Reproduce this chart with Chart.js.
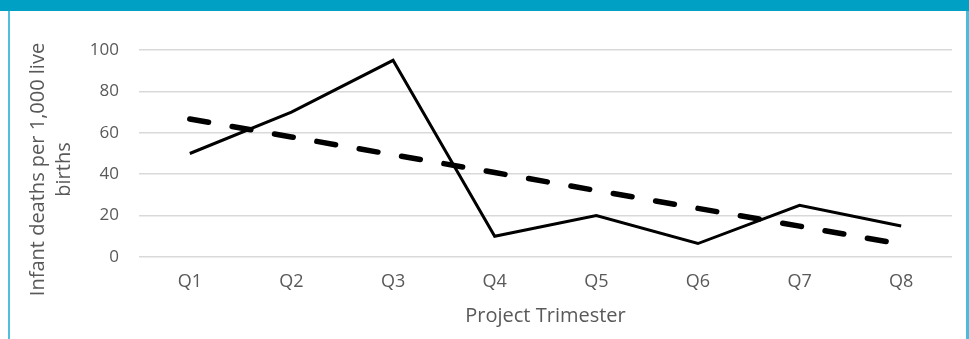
<!DOCTYPE html>
<html>
<head>
<meta charset="utf-8">
<script src="https://cdn.jsdelivr.net/npm/chart.js@4"></script>
<style>
  html, body { margin: 0; padding: 0; background: #fff; }
  #wrap { position: relative; width: 969px; height: 339px; overflow: hidden; }
  #topbar { position: absolute; left: 0; top: 0; width: 969px; height: 11px; background: #00a0c4; }
  #lborder { position: absolute; left: 8px; top: 11px; width: 2px; height: 328px; background: #4fbfdc; }
  #rborder { position: absolute; left: 966px; top: 11px; width: 3px; height: 328px; background: #4abcdc; }
  canvas { position: absolute; left: 0; top: 0; }
</style>
</head>
<body>
<div id="wrap">
  <canvas id="chart" width="969" height="339"></canvas>
  <div id="topbar"></div>
  <div id="lborder"></div>
  <div id="rborder"></div>
</div>
<script>
'use strict';

/* ── data ── */
const quarters   = ['Q1', 'Q2', 'Q3', 'Q4', 'Q5', 'Q6', 'Q7', 'Q8'];
const mortality  = [50, 70, 95, 10, 20, 6.5, 25, 15];
const trendLine  = [66.7, 58.0, 49.4, 40.8, 32.1, 23.5, 14.9, 6.2];
const yTitle     = ['Infant deaths per 1,000 live', 'births'];
const xTitle     = 'Project Trimester';

const FONT  = "'Open Sans', 'Noto Sans', sans-serif";
const GREY  = '#595959';

Chart.defaults.font.family = FONT;
Chart.defaults.color       = GREY;

/* y title sits a bit lower than the plot centre in the reference,
   so it is drawn by hand next to the y axis */
const yTitlePlugin = {
  id: 'yTitle',
  afterDraw(chart) {
    const { ctx } = chart;
    const yScale = chart.scales.y;
    const cy = (yScale.top + yScale.bottom) / 2 + 16;
    ctx.save();
    ctx.font = `20px ${FONT}`;
    ctx.fillStyle = GREY;
    ctx.textAlign = 'center';
    ctx.textBaseline = 'middle';
    yTitle.forEach((line, i) => {
      ctx.save();
      ctx.translate(38 + i * 26, cy);
      ctx.rotate(-Math.PI / 2);
      ctx.fillText(line, 0, 0);
      ctx.restore();
    });
    ctx.restore();
  }
};

new Chart(document.getElementById('chart'), {
  type: 'line',
  data: {
    labels: quarters,
    datasets: [
      {
        data: mortality,
        borderColor: '#000',
        borderWidth: 3,
        pointRadius: 0,
        tension: 0,
        borderJoinStyle: 'miter'
      },
      {
        data: trendLine,
        borderColor: '#000',
        borderWidth: 5.5,
        borderDash: [19, 24],
        borderCapStyle: 'round',
        pointRadius: 0,
        tension: 0
      }
    ]
  },
  options: {
    responsive: false,
    animation: false,
    layout: { padding: { left: 9, right: 17, top: 50, bottom: 0 } },
    plugins: { legend: { display: false }, tooltip: { enabled: false } },
    scales: {
      x: {
        offset: true,
        grid: { display: false, drawTicks: false },
        border: { display: false },
        ticks: { padding: 14, font: { size: 18 }, color: GREY },
        title: {
          display: true, text: xTitle, color: GREY,
          font: { size: 20 }, padding: { top: 4, bottom: 11 }
        },
        afterFit: (s) => { s.height = 82; }
      },
      y: {
        min: 0, max: 100,
        grid: { color: '#d9d9d9', lineWidth: 1.5, drawTicks: false },
        border: { display: false },
        ticks: { stepSize: 20, padding: 20, font: { size: 17 }, color: GREY },
        afterFit: (s) => { s.width = 130; }
      }
    }
  },
  plugins: [yTitlePlugin]
});
</script>
</body>
</html>
